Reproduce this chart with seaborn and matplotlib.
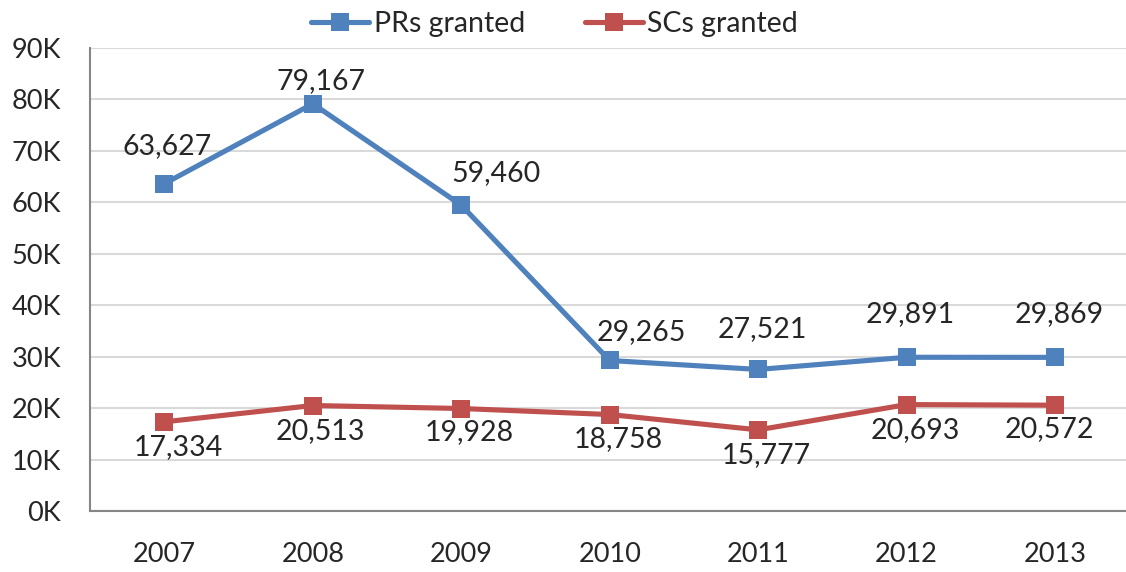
import numpy as np
import pandas as pd
import matplotlib
matplotlib.use("Agg")
import matplotlib.pyplot as plt
import seaborn as sns
from matplotlib.ticker import FuncFormatter, FixedLocator

years = ["2007", "2008", "2009", "2010", "2011", "2012", "2013"]
prs_granted = [63627, 79167, 59460, 29265, 27521, 29891, 29869]
scs_granted = [17334, 20513, 19928, 18758, 15777, 20693, 20572]
series_names = ["PRs granted", "SCs granted"]
colors = ["#4F81BD", "#C0504D"]

# label nudges (pixels), as placed in the original chart
pr_label_dx = [3, 8, 35, 32, 4, 4, 4]
pr_label_dy = [38, 23, 32, 28, 40, 43, 43]
sc_label_dx = [14, 8, 8, 9, 8, 9, -6]
sc_label_dy = [-25, -26, -24, -25, -25, -25, -24]

sns.set_style("white")
plt.rcParams["font.family"] = ["Lato", "DejaVu Sans"]

df = pd.DataFrame({
    "pos": list(range(len(years))) * 2,
    "value": prs_granted + scs_granted,
    "series": [series_names[0]] * len(years) + [series_names[1]] * len(years),
})

fig = plt.figure(figsize=(11.26, 5.72), dpi=100)
ax = fig.add_axes([0.080, 0.1066, 0.923, 0.8094])

sns.lineplot(data=df, x="pos", y="value", hue="series", palette=colors,
             marker="s", markersize=12.5, markeredgewidth=0, linewidth=3.7,
             ax=ax, legend=True)

ax.set_xlim(-0.5, len(years) - 0.5)
ax.set_ylim(0, 90000)
ax.yaxis.set_major_locator(FixedLocator(np.arange(0, 90001, 10000)))
ax.yaxis.set_major_formatter(FuncFormatter(lambda v, p: f"{int(v / 1000)}K"))
ax.set_xticks(range(len(years)))
ax.set_xticklabels(years)
ax.set_xticks(np.arange(-0.5, len(years), 1.0), minor=True)
ax.tick_params(axis="x", which="major", length=0, pad=22, labelsize=19.5)
ax.tick_params(axis="x", which="minor", length=8, width=1.5, color="#868686", direction="out")
ax.tick_params(axis="y", length=8, width=1.5, color="#868686", direction="out", pad=13, labelsize=19.5)
ax.set_xlabel("")
ax.set_ylabel("")

ax.grid(axis="y", color="#D9D9D9", linewidth=1.5)
ax.set_axisbelow(True)
for s in ["top", "right"]:
    ax.spines[s].set_visible(False)
for s in ["left", "bottom"]:
    ax.spines[s].set_color("#868686")
    ax.spines[s].set_linewidth(1.5)

for i, v in enumerate(prs_granted):
    ax.annotate(f"{v:,}", (i, v), xytext=(pr_label_dx[i], pr_label_dy[i]),
                textcoords="offset pixels", ha="center", va="center", fontsize=20.5)
for i, v in enumerate(scs_granted):
    ax.annotate(f"{v:,}", (i, v), xytext=(sc_label_dx[i], sc_label_dy[i]),
                textcoords="offset pixels", ha="center", va="center", fontsize=20.5)

ax.legend(loc="center", bbox_to_anchor=(0.447, 1.052), ncol=2, frameon=False,
          fontsize=20.5, handlelength=2.05, handletextpad=0.15, columnspacing=2.1,
          borderaxespad=0)

fig.savefig("out.png", dpi=100)
